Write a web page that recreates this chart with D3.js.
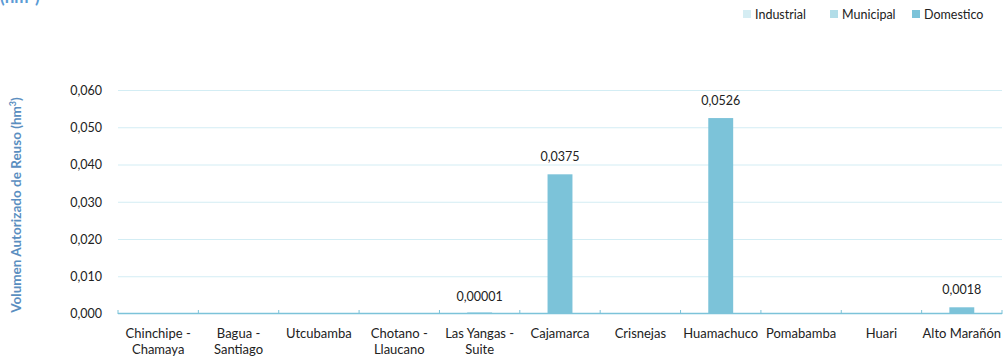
<!DOCTYPE html>
<html><head><meta charset="utf-8">
<script src="https://cdn.jsdelivr.net/npm/d3@7"></script>
<style>
html,body{margin:0;padding:0;background:#fff;}
svg{display:block;font-family:Lato,"Open Sans",sans-serif;}
</style></head>
<body><svg id="c" width="1005" height="357"></svg>
<script>
const categories = [["Chinchipe -","Chamaya"],["Bagua -","Santiago"],["Utcubamba"],["Chotano -","Llaucano"],["Las Yangas -","Suite"],["Cajamarca"],["Crisnejas"],["Huamachuco"],["Pomabamba"],["Huari"],["Alto Marañón"]];
const industrial = [0,0,0,0,0,0,0,0,0,0,0];
const municipal  = [0,0,0,0,0,0,0,0,0,0,0];
const domestico  = [0,0,0,0,0.00001,0.0375,0,0.0526,0,0,0.0018];
const valueLabels = ["","","","","0,00001","0,0375","","0,0526","","","0,0018"];
const yTicks = [0,0.01,0.02,0.03,0.04,0.05,0.06];
const seriesNames = ["Industrial","Municipal","Domestico"];
const colors = {"Industrial":"#d5edf3","Municipal":"#b2dde8","Domestico":"#7cc3d9"};

const svg = d3.select("#c");
const m = {l:118, r:1002, t:90.5, b:314};
const keys = categories.map((c,i)=>i);
const x = d3.scaleBand().domain(keys).range([m.l,m.r]).paddingInner(0.69).paddingOuter(0.345);
const xb = d3.scaleBand().domain(keys).range([m.l,m.r]);
const y = d3.scaleLinear().domain([0,0.06]).range([m.b,m.t]);

// grid
svg.append("g").selectAll("line").data(yTicks.slice(1)).join("line")
  .attr("x1",m.l).attr("x2",m.r).attr("y1",d=>y(d)).attr("y2",d=>y(d))
  .attr("stroke","#d3edf4").attr("stroke-width",1);

// y labels
svg.append("g").selectAll("text").data(yTicks).join("text")
  .attr("x",102).attr("y",d=>y(d)).attr("dy","0.35em").attr("text-anchor","end")
  .attr("font-size",12.5).attr("fill","#222")
  .text(d=>d3.format(".3f")(d).replace(".",","));

// stacked bars
const rows = keys.map(i=>({i, Industrial:industrial[i], Municipal:municipal[i], Domestico:domestico[i]}));
const stack = d3.stack().keys(seriesNames)(rows);
svg.append("g").selectAll("g").data(stack).join("g").attr("fill",s=>colors[s.key])
  .selectAll("rect").data(s=>s.filter(d=>d[1]-d[0]>0)).join("rect")
  .attr("x",d=>x(d.data.i)).attr("width",x.bandwidth())
  .attr("y",d=>Math.min(y(d[1]), y(d[0])-1.5))
  .attr("height",d=>Math.max(y(d[0])-y(d[1]),1.5));

// value labels
svg.append("g").selectAll("text").data(keys.filter(i=>valueLabels[i])).join("text")
  .attr("x",i=>x(i)+x.bandwidth()/2)
  .attr("y",i=>y(industrial[i]+municipal[i]+domestico[i])-13)
  .attr("text-anchor","middle").attr("font-size",12.5).attr("fill","#222")
  .text(i=>valueLabels[i]);

// x axis
const ax = svg.append("g");
ax.append("line").attr("x1",m.l).attr("x2",m.r).attr("y1",m.b-0.5).attr("y2",m.b-0.5)
  .attr("stroke","#7cc3d9").attr("stroke-width",1.5);
const tickPos = keys.map(i=>xb(i)).concat([m.r]);
ax.selectAll("line.t").data(tickPos).join("line").attr("class","t")
  .attr("x1",d=>d).attr("x2",d=>d).attr("y1",m.b-4).attr("y2",m.b)
  .attr("stroke","#7cc3d9").attr("stroke-width",1);
const xl = ax.selectAll("text").data(keys).join("text")
  .attr("text-anchor","middle").attr("font-size",13).attr("fill","#222")
  .attr("transform",i=>`translate(${xb(i)+xb.bandwidth()/2},${333})`);
xl.selectAll("tspan").data(i=>categories[i]).join("tspan")
  .attr("x",0).attr("dy",(d,j)=>j===0?"0.35em":"16px").text(d=>d);

// y title
svg.append("text").attr("transform","translate(21,205) rotate(-90)")
  .attr("text-anchor","middle").attr("font-size",13.5).attr("font-weight","bold")
  .attr("fill","#5a8ec0")
  .html('Volumen Autorizado de Reuso (hm<tspan dy="-5" font-size="9">3</tspan><tspan dy="5">)</tspan>');

// partially visible top title (cropped in the reference)
svg.append("text").attr("x",0).attr("y",3).attr("font-size",17).attr("font-weight","bold")
  .attr("fill","#5b9bd5")
  .html('(hm<tspan dy="-6" font-size="11">3</tspan><tspan dy="6">)</tspan>');

// legend
const lg = svg.append("g");
const legX = [743,830,912];
seriesNames.forEach((n,k)=>{
  lg.append("rect").attr("x",legX[k]).attr("y",10).attr("width",8).attr("height",8).attr("fill",colors[n]);
  lg.append("text").attr("x",legX[k]+12).attr("y",14.5).attr("dy","0.35em")
    .attr("font-size",12.5).attr("fill","#222").text(n);
});
</script></body></html>
